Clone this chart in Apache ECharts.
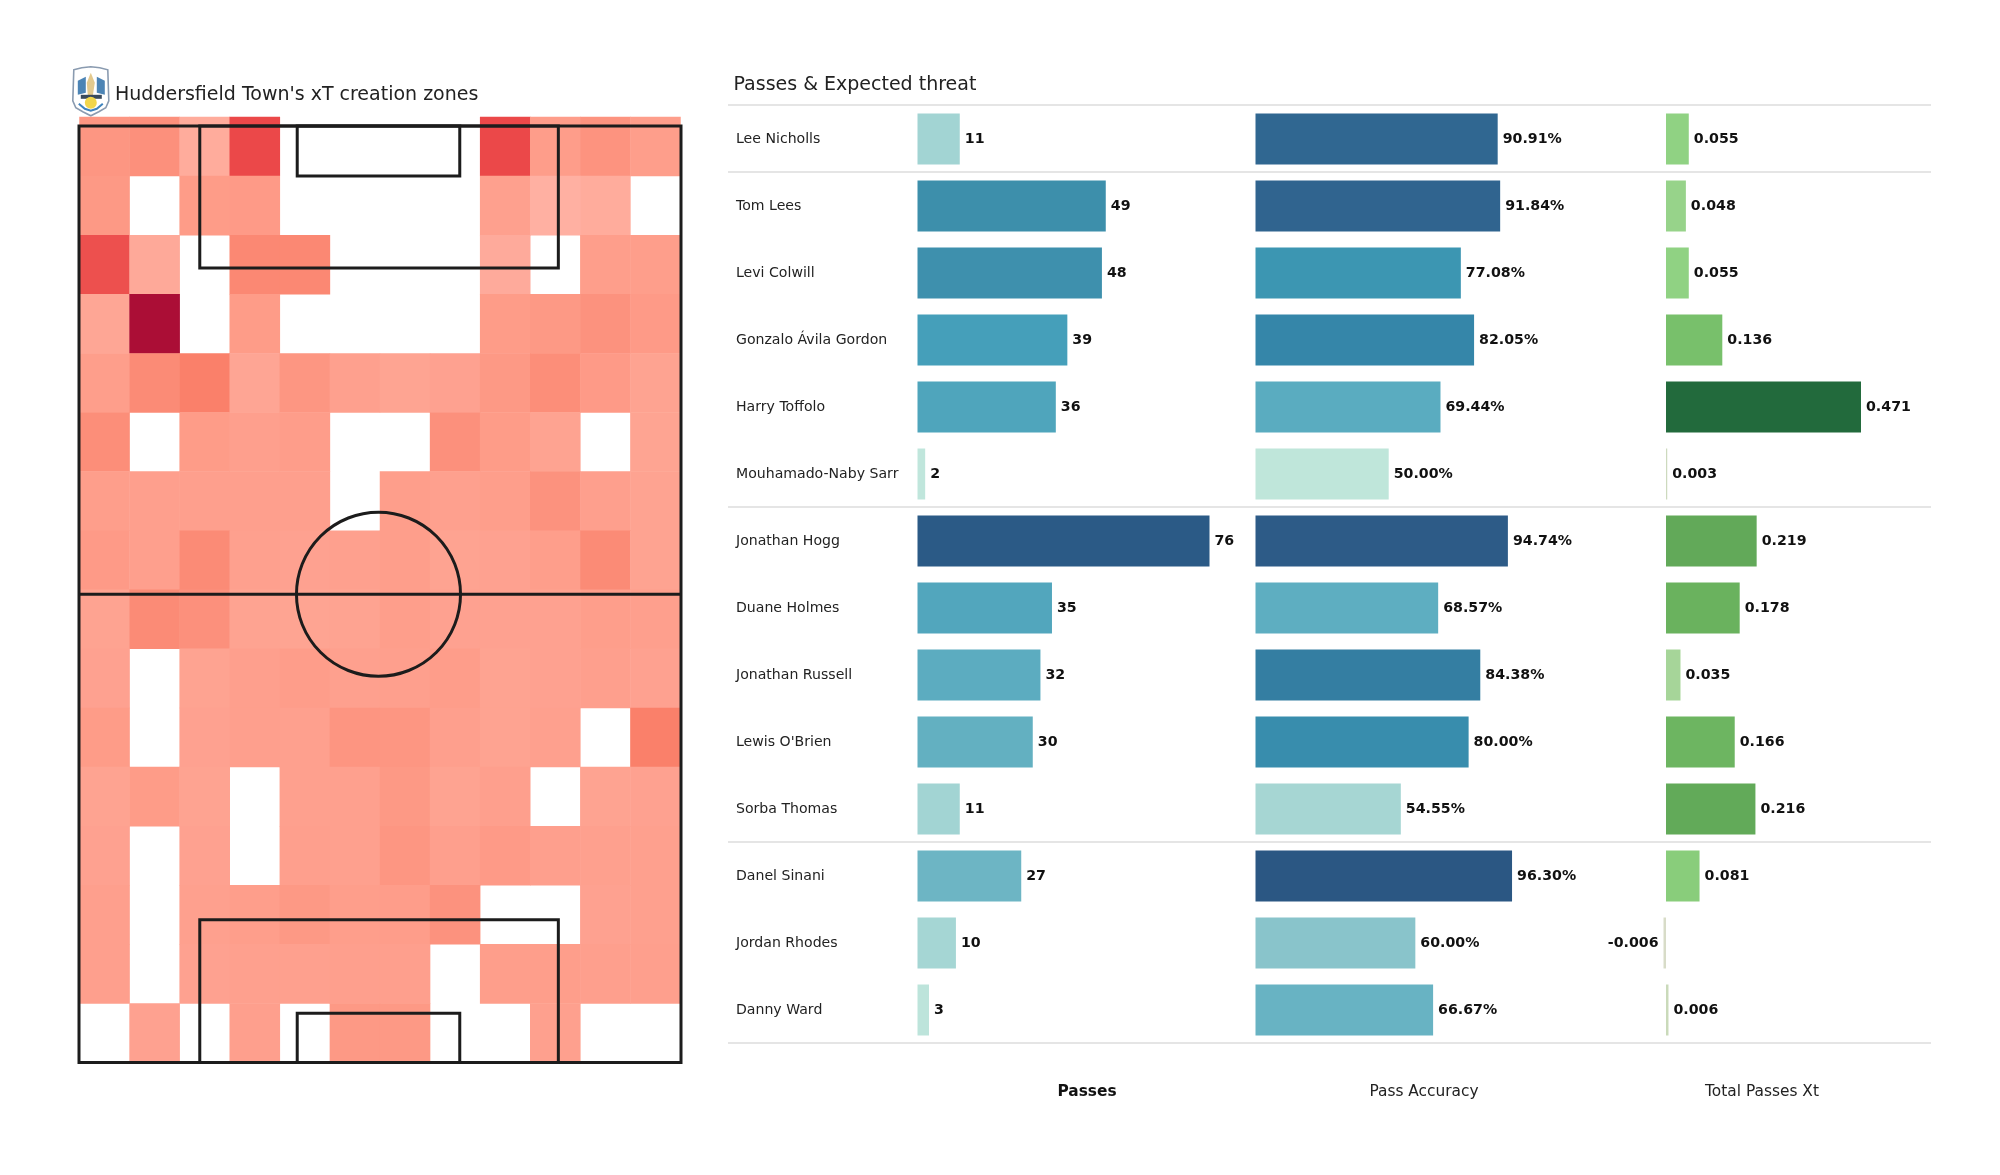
<!DOCTYPE html>
<html><head><meta charset="utf-8">
<style>html,body{margin:0;padding:0;background:#fff}#c{width:2000px;height:1175px}</style>
<script src="https://cdn.jsdelivr.net/npm/echarts@6/dist/echarts.min.js"></script>
</head><body><div id="c"></div>
<script>
const players = ["Lee Nicholls","Tom Lees","Levi Colwill","Gonzalo Ávila Gordon","Harry Toffolo","Mouhamado-Naby Sarr","Jonathan Hogg","Duane Holmes","Jonathan Russell","Lewis O'Brien","Sorba Thomas","Danel Sinani","Jordan Rhodes","Danny Ward"];
const passes = [11,49,48,39,36,2,76,35,32,30,11,27,10,3];
const accuracy = [90.91,91.84,77.08,82.05,69.44,50.00,94.74,68.57,84.38,80.00,54.55,96.30,60.00,66.67];
const totalXt = [0.055,0.048,0.055,0.136,0.471,0.003,0.219,0.178,0.035,0.166,0.216,0.081,-0.006,0.006];
const separators = [0,1,6,11,14];
const _ = null;
const zones = [
 [30,34,12,74,_,_,_,_,74,25,32,24],
 [28,_,26,27,_,_,_,_,22,8,12,_],
 [70,14,_,40,40,_,_,_,13,_,24,24],
 [17,100,_,26,_,_,_,_,26,28,33,27],
 [24,38,46,18,30,22,19,21,28,36,27,20],
 [36,_,26,23,25,_,_,34,26,20,_,19],
 [24,23,23,23,23,_,24,22,24,33,23,20],
 [27,23,38,22,21,22,24,20,21,24,38,20],
 [20,38,34,20,19,20,24,21,21,21,24,23],
 [21,_,20,23,25,22,23,25,20,21,23,21],
 [26,_,21,23,22,31,30,23,20,22,_,46],
 [20,26,20,_,22,22,28,20,23,_,20,21],
 [21,_,21,_,23,22,30,23,27,23,22,22],
 [23,_,22,24,28,24,25,33,_,_,21,22],
 [23,_,21,22,22,23,23,_,24,24,23,23],
 [_,21,_,23,_,28,28,_,_,22,_,_]
];
const pitchRects = [[0,0,80,120],[16.05,0,63.7,18.2],[29,0,50.6,6.4],[16.05,101.7,63.7,120],[29,113.7,50.6,120]];
const pitchLines = [[0,60,80,60]];
const centreCircle = [[39.8,60,10.9]];
const heatStops = ['#ffb9ad','#fe9d8a','#f97a64','#ea4648','#ab0e36'];
const passStops = ['#c0e6dc','#82c1c9','#459fba','#37819f','#2b5a86'];
const accStops = ['#bfe6da','#a6d6d3','#8cc6cc','#78bbc6','#5eaec1','#4aa2ba','#3a94b1','#3585a8','#337499','#30648f','#2b5783'];
const xtStops = ['#d8dcc8','#90d283','#80c872','#6bb35f','#5fa657','#4c9450','#3c8449','#2e7642','#226a3c'];

const font = 'DejaVu Sans';
const cols = [...Array(12).keys()].map(String);
const rows = [...Array(16).keys()].map(String);
const heatData = [];
zones.forEach((r,y)=>r.forEach((v,x)=>{ if(v!==null) heatData.push([x,y,v]); }));

function barSeries(values,i,fmt){
  return {type:'bar',xAxisIndex:i,yAxisIndex:i,barWidth:51,silent:true,
    data:values.map((v,k)=>({value:[v,k],label:{position:v<0?'left':'right'}})),
    label:{show:true,distance:5,color:'#111',fontFamily:font,fontWeight:'bold',fontSize:14.2,
      formatter:p=>fmt(p.value[0])}};
}
const hiddenCat = (i)=>({type:'category',gridIndex:i,data:players,inverse:true,show:false});
const titleStyle = (w,s,c)=>({fontFamily:font,fontWeight:w,fontSize:s,color:c});

const grids = [
 {left:917.5,top:105.5,width:292,height:938},
 {left:1255.5,top:105.5,width:266.4,height:938},
 {left:1624.6,top:105.5,width:248.4,height:938},
 {left:79.5,top:117,width:601,height:945.5},
 {left:79,top:126,width:602,height:936.5},
 {left:728,top:105,width:1203,height:938}
];
const option = {
 animation:false,backgroundColor:'#fff',
 title:[
  {text:"Huddersfield Town's xT creation zones",left:110,top:81,textStyle:titleStyle('normal',19,'#222')},
  {text:"Passes & Expected threat",left:728.5,top:71,textStyle:titleStyle('normal',19,'#222')},
  {text:"Passes",left:1082,top:1079,textAlign:'center',textStyle:titleStyle('bold',15.4,'#111')},
  {text:"Pass Accuracy",left:1419,top:1079,textAlign:'center',textStyle:titleStyle('normal',15.4,'#222')},
  {text:"Total Passes Xt",left:1757,top:1079,textAlign:'center',textStyle:titleStyle('normal',15.4,'#222')}
 ],
 grid:grids,
 xAxis:[
  {type:'value',gridIndex:0,min:0,max:76,show:false},
  {type:'value',gridIndex:1,min:0,max:100,show:false},
  {type:'value',gridIndex:2,min:-0.1,max:0.5,show:false},
  {type:'category',gridIndex:3,data:cols,show:false},
  {type:'value',gridIndex:4,min:0,max:80,show:false},
  {type:'value',gridIndex:5,min:0,max:1,show:false}
 ],
 yAxis:[
  {type:'category',gridIndex:0,data:players,inverse:true,axisLine:{show:false},axisTick:{show:false},
   axisLabel:{align:'left',margin:181.5,color:'#222',fontFamily:font,fontSize:14.1}},
  hiddenCat(1),hiddenCat(2),
  {type:'category',gridIndex:3,data:rows,inverse:true,show:false},
  {type:'value',gridIndex:4,min:0,max:120,inverse:true,show:false},
  {type:'value',gridIndex:5,min:0,max:14,inverse:true,show:false}
 ],
 visualMap:[
  {show:false,seriesIndex:0,dimension:0,min:2,max:76,inRange:{color:passStops}},
  {show:false,seriesIndex:1,dimension:0,min:50,max:96.3,inRange:{color:accStops}},
  {show:false,seriesIndex:2,dimension:0,min:-0.006,max:0.471,inRange:{color:xtStops}},
  {show:false,seriesIndex:3,dimension:2,min:0,max:100,inRange:{color:heatStops}}
 ],
 series:[
  barSeries(passes,0,v=>String(v)),
  barSeries(accuracy,1,v=>v.toFixed(2)+'%'),
  barSeries(totalXt,2,v=>v.toFixed(3)),
  {type:'heatmap',xAxisIndex:3,yAxisIndex:3,data:heatData,silent:true,itemStyle:{borderWidth:0}},
  {type:'custom',xAxisIndex:4,yAxisIndex:4,silent:true,clip:false,data:pitchRects,
   renderItem:(p,api)=>{
    const a=api.coord([api.value(0),api.value(1)]),b=api.coord([api.value(2),api.value(3)]);
    return {type:'rect',shape:{x:a[0],y:a[1],width:b[0]-a[0],height:b[1]-a[1]},
      style:{fill:'none',stroke:'#1c1c1c',lineWidth:3}};
   }},
  {type:'custom',xAxisIndex:4,yAxisIndex:4,silent:true,clip:false,data:pitchLines,
   renderItem:(p,api)=>{
    const a=api.coord([api.value(0),api.value(1)]),b=api.coord([api.value(2),api.value(3)]);
    return {type:'line',shape:{x1:a[0],y1:a[1],x2:b[0],y2:b[1]},style:{stroke:'#1c1c1c',lineWidth:3}};
   }},
  {type:'custom',xAxisIndex:4,yAxisIndex:4,silent:true,clip:false,data:centreCircle,
   renderItem:(p,api)=>{
    const c=api.coord([api.value(0),api.value(1)]),r=api.size([api.value(2),0])[0];
    return {type:'circle',shape:{cx:c[0],cy:c[1],r:r},style:{fill:'none',stroke:'#1c1c1c',lineWidth:3}};
   }},
  {type:'custom',xAxisIndex:5,yAxisIndex:5,silent:true,clip:false,data:separators.map(v=>[v]),
   renderItem:(p,api)=>{
    const v=api.value(0),a=api.coord([0,v]),b=api.coord([1,v]);
    return {type:'line',shape:{x1:a[0],y1:a[1],x2:b[0],y2:b[1]},style:{stroke:'#dcdcdc',lineWidth:1.4}};
   }}
 ],
 graphic:[{type:'group',left:72,top:66,silent:true,children:[
   {type:'polygon',shape:{points:[[1,3],[9,1],[18,0],[27,1],[35,3],[36,34],[33,41],[26,45],[18,49],[10,45],[3,41],[0,34]]},
    style:{fill:'#fff',stroke:'#8a9bb0',lineWidth:1.6}},
   {type:'polygon',shape:{points:[[5,14],[13,10],[13,26],[5,28]]},style:{fill:'#2d6ea8',opacity:.85}},
   {type:'polygon',shape:{points:[[24,10],[32,14],[32,28],[24,26]]},style:{fill:'#2d6ea8',opacity:.85}},
   {type:'polygon',shape:{points:[[18,6],[22,16],[20,29],[15,29],[14,16]]},style:{fill:'#e3c98d'}},
   {type:'rect',shape:{x:8,y:28,width:21,height:4},style:{fill:'#3a4a5c'}},
   {type:'circle',shape:{cx:18,cy:36,r:6},style:{fill:'#f2d64b'}},
   {type:'polyline',shape:{points:[[6,37],[12,42],[18,44],[24,42],[30,37]]},style:{stroke:'#3f83bd',lineWidth:2,fill:'none'}}
 ]}]
};
echarts.init(document.getElementById('c')).setOption(option);
</script></body></html>
